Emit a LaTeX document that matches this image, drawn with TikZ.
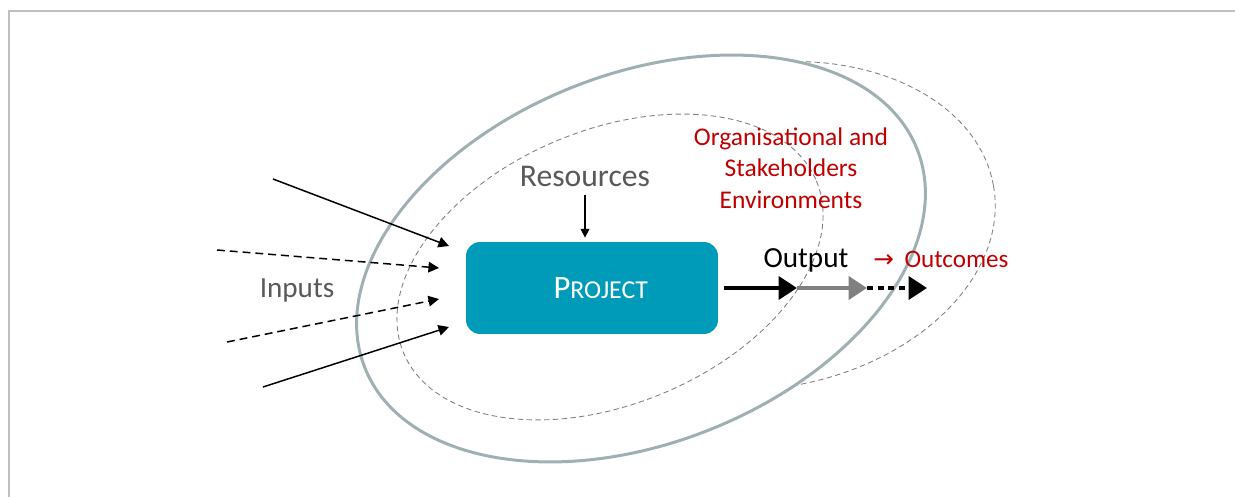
\documentclass[tikz,border=0pt]{standalone}
\usepackage{fontspec}
\setmainfont{Carlito}
\newfontfamily\arrowfont{DejaVu Sans}
\usetikzlibrary{arrows.meta}
\definecolor{projteal}{RGB}{0,155,185}
\definecolor{ringgray}{RGB}{160,176,178}
\definecolor{envred}{RGB}{192,0,0}
\definecolor{textgray}{RGB}{89,89,89}
\definecolor{framegray}{RGB}{191,191,191}
\definecolor{arrowgray}{RGB}{128,128,128}

\begin{document}
\begin{tikzpicture}[x=0.02cm,y=-0.02cm,
    ring/.style={draw=ringgray,line width=1.7pt},
    envring/.style={draw=gray,line width=0.5pt,dash pattern=on 3pt off 2pt},
    inarrow/.style={line width=0.85pt,-{Triangle[length=6pt,width=6pt]}},
    indash/.style={inarrow,dash pattern=on 4.5pt off 2.8pt},
    outarrow/.style={line width=2.8pt,-{Triangle[length=10.5pt,width=13pt]}},
    lbl/.style={inner sep=0pt,text=textgray,font=\fontsize{16.6}{20}\selectfont}] %
    \useasboundingbox (0,0) rectangle (1235,497);
    \draw[framegray,line width=1.7pt] (9,497) -- (9,11) -- (1235,11);
    % environments
    \draw[envring,rotate around={10:(766,226)}] (766,226) ellipse [x radius=231,y radius=162];
    \draw[ring,fill=white,rotate around={21.6:(641,258.5)}] (641,258.5) ellipse [x radius=297,y radius=184.5];
    \draw[envring,rotate around={22.6:(610,267)}] (610,267) ellipse [x radius=223.6,y radius=137];
    % nodes
    \node[fill=projteal,rounded corners=0.28cm,minimum width=5.04cm,minimum height=1.84cm,inner sep=0pt,text=white] (project) at (592,288)
        {\hspace{10pt}{\fontsize{18.6}{22}\selectfont P}{\fontsize{14.7}{18}\selectfont ROJECT}}; %
    \node[lbl,font=\fontsize{18}{22}\selectfont,anchor=base] (resources) at (585,186) {Resources}; %
    \node[lbl,anchor=base] (inputs) at (297,297) {Inputs}; %
    \node[inner sep=0pt,text=envred,align=center,font=\fontsize{14.5}{17.9}\selectfont] (env) at (791,168)
        {Organisational and\\Stakeholders\\Environments}; %
    \node[inner sep=0pt,anchor=base,font=\fontsize{16.6}{20}\selectfont] (output) at (806,267) {Output}; %
    \node[inner sep=0pt,anchor=base west,text=envred,font=\fontsize{14.3}{17}\selectfont] (outcomes) at (873,267)
        {{\arrowfont\fontsize{14}{16}\selectfont →}\hspace{6pt}Outcomes}; %
    % inputs
    \coordinate (in1) at (273,179); \coordinate (in1tip) at (449,246);
    \coordinate (in2) at (217,250); \coordinate (in2tip) at (439,268);
    \coordinate (in3) at (227,342); \coordinate (in3tip) at (439,299);
    \coordinate (in4) at (263,387); \coordinate (in4tip) at (449,327);
    \draw[inarrow] (in1) -- (in1tip);
    \draw[indash] (in2) -- (in2tip);
    \draw[indash] (in3) -- (in3tip);
    \draw[inarrow] (in4) -- (in4tip);
    \draw[line width=0.6pt,-{Triangle[length=5pt,width=5pt]},shorten <=5pt,shorten >=2.3pt]
        (resources.south) -- (resources.south |- project.north);
    % output chain
    \coordinate (out1) at (797,288);
    \coordinate (out2) at (867,288);
    \coordinate (out3) at (927,288);
    \draw[outarrow] ([xshift=3.4pt]project.east) -- (out1);
    \draw[outarrow,color=arrowgray] (out1) -- (out2);
    \draw[outarrow,dash pattern=on 3.4pt off 2.6pt] (out2) -- (out3);
\end{tikzpicture}
\end{document}
